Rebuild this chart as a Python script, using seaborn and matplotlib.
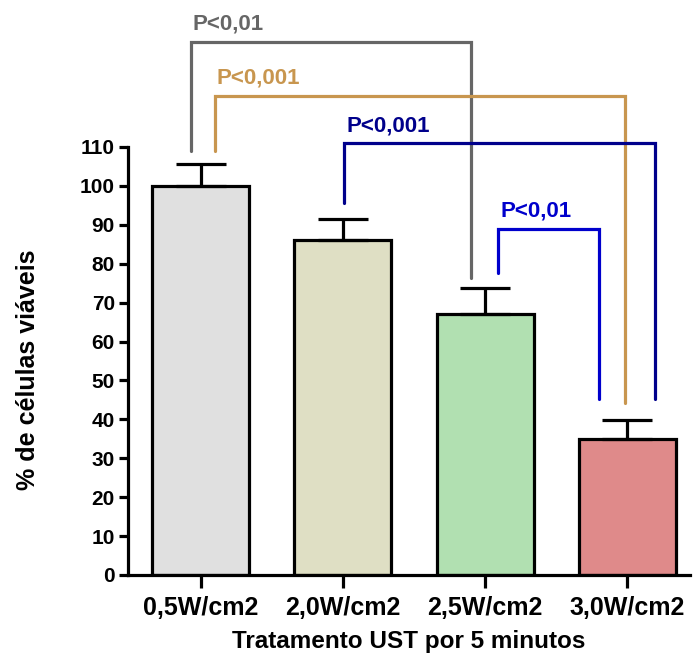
import matplotlib
matplotlib.use("Agg")
import matplotlib.pyplot as plt
import seaborn as sns
import pandas as pd

# values
groups = ["0,5W/cm2", "2,0W/cm2", "2,5W/cm2", "3,0W/cm2"]
means = [100, 86, 67, 35]
sds = [5.5, 5.6, 6.7, 4.8]
bar_colors = ["#e0e0e0", "#dfdfc4", "#b1e0b1", "#df8a8a"]

# significance brackets: (x left, x right, height, left foot, right foot, label, colour)
brackets = [
    (-0.07, 1.90, 137.1, 109.0, 76.3, "P<0,01", "#666666"),
    (0.10, 2.98, 123.0, 109.0, 44.2, "P<0,001", "#c8964f"),
    (1.01, 3.19, 110.9, 95.6, 45.2, "P<0,001", "#00008b"),
    (2.09, 2.80, 89.0, 77.6, 45.2, "P<0,01", "#0000cc"),
]

df = pd.DataFrame({"grupo": groups, "viaveis": means})

sns.set_style("ticks")
plt.rcParams["font.family"] = ["Liberation Sans", "DejaVu Sans"]
plt.rcParams["font.weight"] = "bold"
plt.rcParams["text.color"] = "black"
plt.rcParams["axes.labelcolor"] = "black"
plt.rcParams["xtick.color"] = "black"
plt.rcParams["ytick.color"] = "black"

fig = plt.figure(figsize=(6.94, 6.59), dpi=100)
ax = fig.add_axes([0.1844, 0.1275, 0.81, 0.6495])

sns.barplot(data=df, x="grupo", y="viaveis", hue="grupo", palette=bar_colors,
            saturation=1, legend=False, width=0.68, edgecolor="black",
            linewidth=2.3, ax=ax, zorder=2)

# upper error bars only
ax.errorbar(range(len(groups)), means, yerr=[[0] * len(sds), sds], fmt="none",
            ecolor="black", elinewidth=2.3, capsize=18, capthick=2.3, zorder=3)

for x0, x1, h, f0, f1, label, col in brackets:
    ax.plot([x0, x0, x1, x1], [f0, h, h, f1], color=col, lw=2.3,
            clip_on=False, solid_joinstyle="miter", zorder=4)
    ax.text(x0 + 0.015, h + 1.9, label, color=col, fontsize=16, fontweight="bold",
            ha="left", va="bottom", clip_on=False)

ax.set_ylim(0, 110)
ax.set_xlim(-0.51, 3.44)
ax.set_yticks(range(0, 111, 10))
ax.spines["top"].set_visible(False)
ax.spines["right"].set_visible(False)
for s in ["left", "bottom"]:
    ax.spines[s].set_linewidth(2.3)
    ax.spines[s].set_color("black")
ax.tick_params(axis="y", length=6.5, width=2.3, labelsize=15, pad=3)
ax.tick_params(axis="x", length=9, width=2.3, labelsize=18, pad=6)
for lab in ax.get_xticklabels() + ax.get_yticklabels():
    lab.set_fontweight("bold")

ax.set_xlabel("Tratamento UST por 5 minutos", fontsize=17.5, fontweight="bold", labelpad=7)
ax.set_ylabel("% de células viáveis", fontsize=18, fontweight="bold")
ax.yaxis.set_label_coords(-0.157, 0.48)

fig.savefig("out.png", dpi=100)
